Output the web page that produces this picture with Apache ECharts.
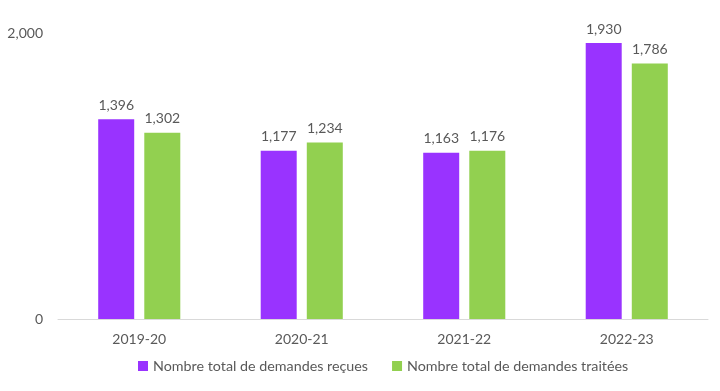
<!DOCTYPE html>
<html><head><meta charset="utf-8">
<script src="https://cdn.jsdelivr.net/npm/echarts@6/dist/echarts.min.js"></script>
<style>html,body{margin:0;padding:0;background:#fff}#c{width:720px;height:391px}</style>
</head><body><div id="c"></div>
<script>
const categories = ['2019-20','2020-21','2021-22','2022-23'];
const recues = [1396,1177,1163,1930];
const traitees = [1302,1234,1176,1786];
const seriesNames = ['Nombre total de demandes reçues','Nombre total de demandes traitées'];
const font = 'Lato, "Open Sans", sans-serif';
const txt = '#595959';
const chart = echarts.init(document.getElementById('c'));
const lbl = {show:true, position:'top', distance:7, color:txt, fontFamily:font, fontSize:14,
  formatter:p=>p.value.toLocaleString('en-US')};
chart.setOption({
  animation:false,
  grid:{left:58,right:12,top:33,bottom:72},
  legend:{bottom:13,left:133,itemWidth:10,itemHeight:10,itemGap:24,icon:'rect',
    textStyle:{color:txt,fontFamily:font,fontSize:14.3}},
  xAxis:{type:'category',data:categories,
    axisLine:{lineStyle:{color:'#d9d9d9',width:1}},axisTick:{show:false},
    axisLabel:{color:txt,fontFamily:font,fontSize:14,margin:13}},
  yAxis:{type:'value',min:0,max:2000,interval:2000,splitLine:{show:false},
    axisLabel:{color:txt,fontFamily:font,fontSize:14,margin:15,formatter:v=>v.toLocaleString('en-US')}},
  series:[
    {name:seriesNames[0],type:'bar',data:recues,itemStyle:{color:'#9933FF'},barWidth:36,barGap:'28%',label:lbl},
    {name:seriesNames[1],type:'bar',data:traitees,itemStyle:{color:'#92D050'},barWidth:36,label:lbl}
  ]
});
</script></body></html>
